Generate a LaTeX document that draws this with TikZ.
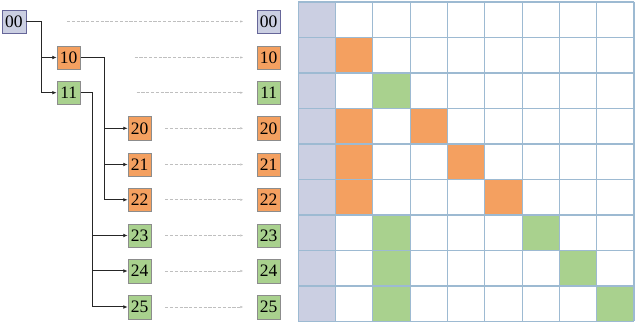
\documentclass[tikz,border=0pt]{standalone}
\usepackage{fontspec}
\setmainfont{Liberation Serif}
\usetikzlibrary{arrows.meta, positioning}
\definecolor{bluegray}{HTML}{CBCFE2}
\definecolor{orng}{HTML}{F4A060}
\definecolor{grn}{HTML}{A9D18E}
\definecolor{gridblue}{HTML}{9DBAD2}
\begin{document}
\begin{tikzpicture}[x=1pt, y=-1pt,
  root/.style={rectangle, draw=gray!80!blue, fill=bluegray, minimum width=23.5pt, minimum height=23.5pt, inner sep=0pt, font=\fontsize{17.5}{17.5}\selectfont},
  onode/.style={rectangle, draw=gray!90, fill=orng, minimum width=23.5pt, minimum height=23.5pt, inner sep=0pt, font=\fontsize{17.5}{17.5}\selectfont},
  gnode/.style={rectangle, draw=gray!90, fill=grn, minimum width=23.5pt, minimum height=23.5pt, inner sep=0pt, font=\fontsize{17.5}{17.5}\selectfont},
  tree/.style={line width=1pt, black!85, -{Latex[length=4.5pt,width=3.8pt]}},
  dasharr/.style={gray!50, dash pattern=on 3.2pt off 1.6pt, line width=0.9pt, -{Latex[length=3pt,width=2.5pt]}, shorten >=13.5pt},
  gridln/.style={gridblue, line width=1.1pt},
  >=Stealth
]
  \useasboundingbox (0,0) rectangle (640,328);

  % tree on the left
  \node[root]  (n00) at (14,21.5) {00};
  \node[onode] (n10) at (68.7,57.5) {10};
  \node[gnode] (n11) at (68.7,92.7) {11};
  \node[onode] (n20) at (139.7,128.3) {20};
  \node[onode] (n21) at (139.7,164.5) {21};
  \node[onode] (n22) at (139.7,199.8) {22};
  \node[gnode] (n23) at (139.7,235.5) {23};
  \node[gnode] (n24) at (139.7,271) {24};
  \node[gnode] (n25) at (139.7,307) {25};

  \coordinate (b0) at (41,0);
  \coordinate (b1) at (104,0);
  \coordinate (b2) at (92,0);

  \draw[tree] (n00.east) -| (b0 |- n11.west) -- (n11.west);
  \draw[tree] (b0 |- n10.west) -- (n10.west);
  \draw[tree] (n10.east) -| (b1 |- n22.west) -- (n22.west);
  \foreach \k in {20,21}
    \draw[tree] (b1 |- n\k.west) -- (n\k.west);
  \draw[tree] (n11.east) -| (b2 |- n25.west) -- (n25.west);
  \foreach \k in {23,24}
    \draw[tree] (b2 |- n\k.west) -- (n\k.west);

  % flattened list
  \node[root]  (r00) at (268.7,21.5) {00};
  \node[onode] (r10) at (268.7,57.5) {10};
  \node[gnode] (r11) at (268.7,92.7) {11};
  \node[onode] (r20) at (268.7,128.3) {20};
  \node[onode] (r21) at (268.7,164.5) {21};
  \node[onode] (r22) at (268.7,199.8) {22};
  \node[gnode] (r23) at (268.7,235.5) {23};
  \node[gnode] (r24) at (268.7,271) {24};
  \node[gnode] (r25) at (268.7,307) {25};

  \foreach \k/\s in {00/41,10/54,11/56,20/13.5,21/13.5,22/13.5,23/13.5,24/13.5,25/13.5}
    \draw[dasharr, shorten <=\s pt] (n\k) -- (r\k);

  % mask grid
  \fill[bluegray] (298.3,2) rectangle (335.6,321.5);
  \foreach \r/\c/\col in {1/1/orng, 2/2/grn, 3/1/orng, 3/3/orng, 4/1/orng, 4/4/orng,
                          5/1/orng, 5/5/orng, 6/2/grn, 6/6/grn, 7/2/grn, 7/7/grn, 8/2/grn, 8/8/grn}
    \fill[\col] ({298.3+\c*37.3},{2+\r*35.5}) rectangle ++(37.3,35.5);
  \foreach \i in {0,...,9} {
    \draw[gridln] ({298.3+\i*37.3},2) -- ({298.3+\i*37.3},321.5);
    \draw[gridln] (298.3,{2+\i*35.5}) -- (634,{2+\i*35.5});
  }
\end{tikzpicture}
\end{document}
